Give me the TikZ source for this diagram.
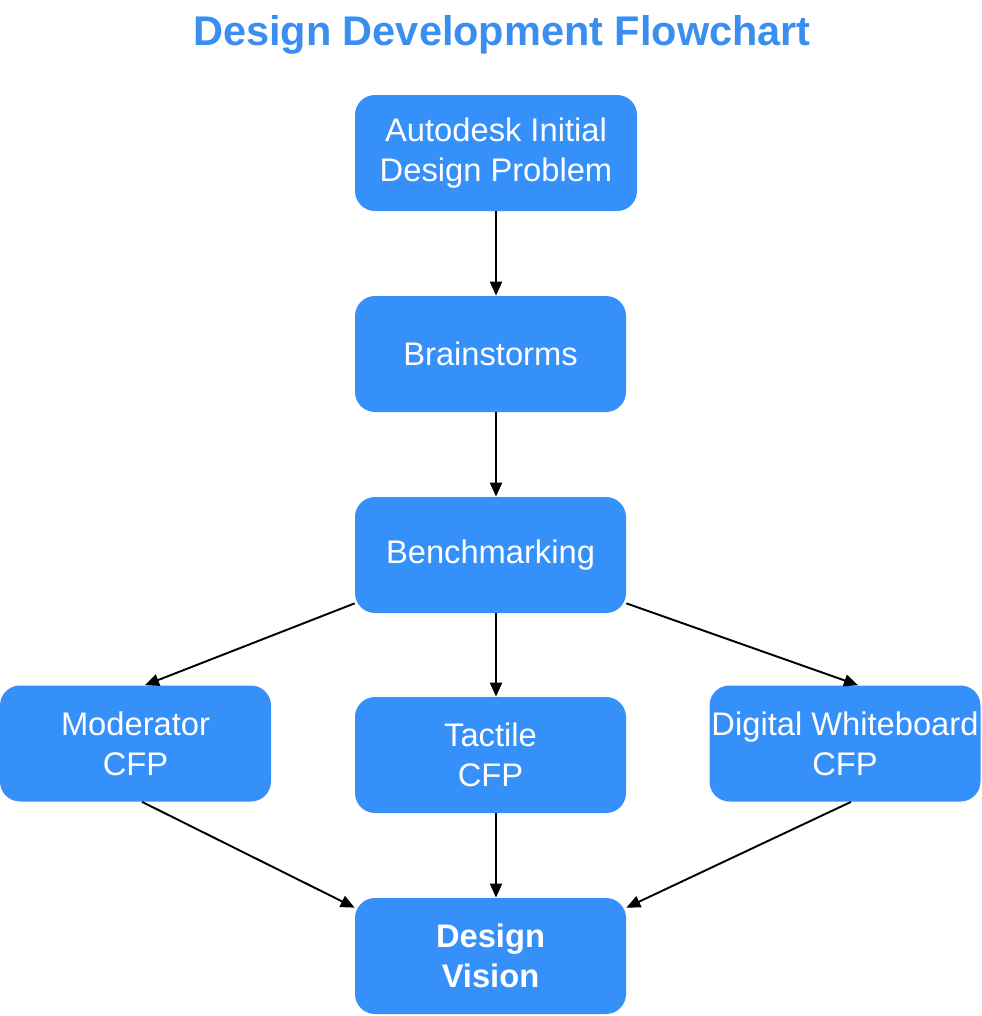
\documentclass[tikz,border=0pt]{standalone}
\usepackage{fontspec}
\setmainfont{Liberation Sans}
\usetikzlibrary{arrows.meta}

\definecolor{boxblue}{RGB}{54,144,250}
\definecolor{titleblue}{RGB}{58,142,240}

\tikzset{
  stepbox/.style={rectangle, rounded corners=0.4cm, fill=boxblue, text=white,
    minimum width=5.42cm, minimum height=2.32cm, inner sep=0pt, align=center,
    font=\fontsize{18.6}{22.7}\selectfont},
  arr/.style={line width=1.1pt, -{Triangle[length=0.28cm,width=0.24cm]}}
}

\begin{document}
\begin{tikzpicture}

\useasboundingbox (0,0) rectangle (19.62,-20.32);

% Titulo
\node[text=titleblue, font=\fontsize{23.6}{28}\selectfont\bfseries] (title) at (10.04,-0.70) {Design Development Flowchart};

% Etapas
\node[stepbox, minimum width=5.64cm] (problem) at (9.92,-3.06) {Autodesk Initial\\Design Problem};
\node[stepbox] (brain) at (9.81,-7.08) {Brainstorms};
\node[stepbox] (bench) at (9.81,-11.10) {Benchmarking};
\node[stepbox] (moder) at (2.71,-14.87) {Moderator\\CFP};
\node[stepbox] (tactile) at (9.81,-15.10) {Tactile\\CFP};
\node[stepbox] (digital) at (16.90,-14.87) {Digital Whiteboard\\CFP};
\node[stepbox, font=\fontsize{18.6}{22.7}\selectfont\bfseries] (vision) at (9.81,-19.12) {Design\\Vision};

% Setas verticais
\draw[arr] (problem.south) -- (brain.north -| problem.south);
\draw[arr] (brain.south -| problem.south) -- (bench.north -| problem.south);
\draw[arr] (bench.south -| problem.south) -- (tactile.north -| problem.south);
\draw[arr] (tactile.south -| problem.south) -- (vision.north -| problem.south);

% Setas diagonais
\draw[arr] ([yshift=0.2cm]bench.south west) -- ([xshift=0.19cm]moder.north);
\draw[arr] ([yshift=0.2cm]bench.south east) -- ([xshift=0.26cm]digital.north);
\draw[arr] ([xshift=0.13cm]moder.south) -- ([yshift=-0.2cm]vision.north west);
\draw[arr] ([xshift=0.12cm]digital.south) -- ([yshift=-0.2cm]vision.north east);

\end{tikzpicture}
\end{document}
